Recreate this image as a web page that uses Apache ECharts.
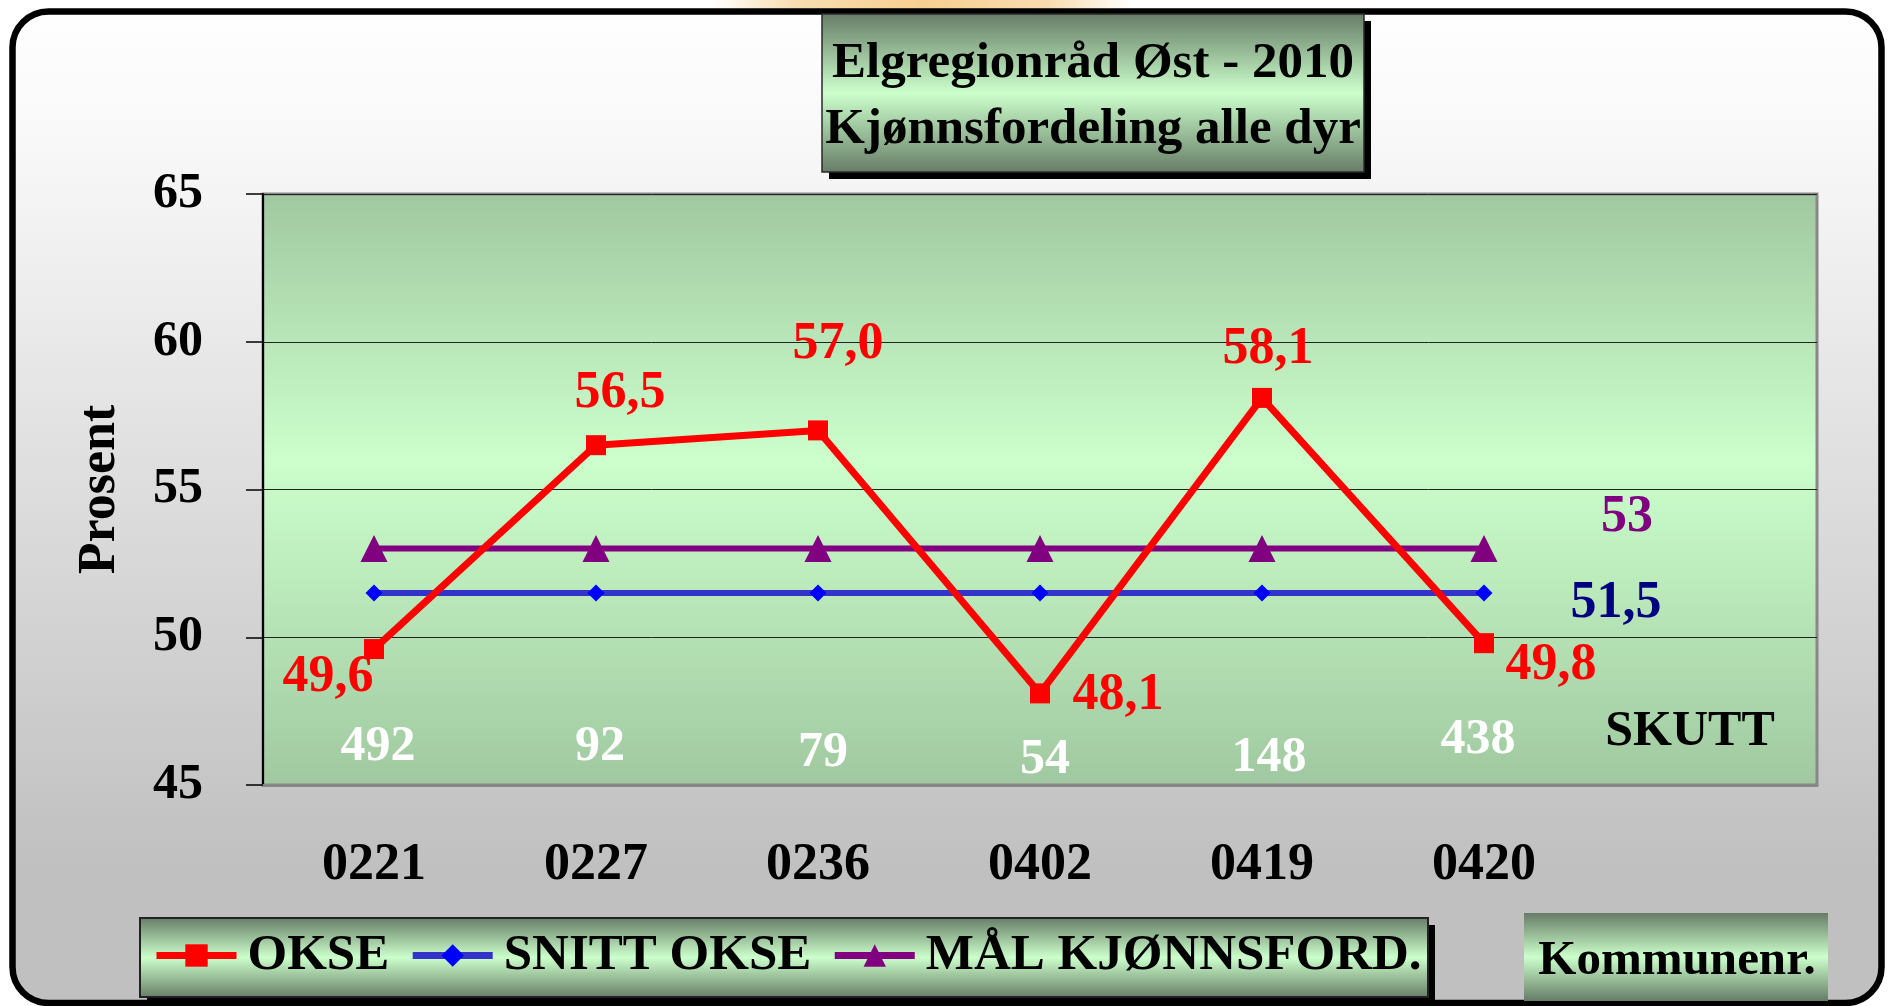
<!DOCTYPE html>
<html><head><meta charset="utf-8">
<script src="https://cdn.jsdelivr.net/npm/echarts@6/dist/echarts.min.js"></script>
<style>html,body{margin:0;padding:0;background:#fff}#c{width:1888px;height:1006px}</style>
</head><body><div id="c"></div>
<script>
// ---------- data ----------
const categories = ['0221', '0227', '0236', '0402', '0419', '0420'];
const okse = [49.6, 56.5, 57.0, 48.1, 58.1, 49.8];
const snittOkse = [51.5, 51.5, 51.5, 51.5, 51.5, 51.5];
const malKjonn = [53, 53, 53, 53, 53, 53];
const skutt = [492, 92, 79, 54, 148, 438];
const yMin = 45, yMax = 65, yStep = 5;
const seriesNames = ['OKSE', 'SNITT OKSE', 'MÅL KJØNNSFORD.'];
const titleLines = ['Elgregionråd Øst - 2010', 'Kjønnsfordeling alle dyr'];
const yName = 'Prosent';
const xName = 'Kommunenr.';
const skuttName = 'SKUTT';

// ---------- layout / style ----------
const FONT = '"Liberation Serif", "Times New Roman", serif';
const oksePos = [[-46, 28], [24, -52], [20, -86], [78, 2], [6, -48], [67, 22]];
const countOff = [[4, -3], [4, -3], [5, 3], [5, 10], [7, 8], [-6, -10]];
const skuttOff = [-16, -18];
const COUNT_Y = 46.18;
const fmt = v => String(v).replace('.', ',');
const fmt1 = v => v.toFixed(1).replace('.', ',');

const boxGrad = {type: 'linear', x: 0, y: 0, x2: 0, y2: 1, colorStops: [
  {offset: 0, color: '#667c66'}, {offset: 0.5, color: '#ccffcc'}, {offset: 1, color: '#667c66'}]};
const frameGrad = {type: 'linear', x: 0, y: 0, x2: 0, y2: 1, colorStops: [
  {offset: 0, color: '#ffffff'}, {offset: 0.15, color: '#f7f7f7'}, {offset: 0.86, color: '#c0c0c0'}, {offset: 1, color: '#c0c0c0'}]};
const plotGrad = {type: 'linear', x: 0, y: 0, x2: 0, y2: 1, colorStops: [
  {offset: 0, color: '#a0c8a0'}, {offset: 0.45, color: '#ccffcc'}, {offset: 1, color: '#a0c8a0'}]};
const blobGrad = {type: 'linear', x: 0, y: 0, x2: 1, y2: 0, colorStops: [
  {offset: 0, color: 'rgba(248,220,170,0)'}, {offset: 0.2, color: '#f9ddb0'}, {offset: 0.5, color: '#f6cf92'},
  {offset: 0.8, color: '#f9ddb0'}, {offset: 1, color: 'rgba(248,220,170,0)'}]};

const xData = categories.concat(['']);
const last = categories.length - 1;
const countLabel = (text, off, color) => ({
  show: true, position: 'inside', offset: off, formatter: text, opacity: 1,
  fontSize: 50, fontWeight: 'bold', fontFamily: FONT, color: color,
  textBorderWidth: 0, textBorderColor: 'transparent'
});

const chart = echarts.init(document.getElementById('c'), null, {renderer: 'canvas'});
chart.setOption({
  animation: false,
  backgroundColor: '#ffffff',
  textStyle: {fontFamily: FONT},
  title: {
    text: titleLines.join('\n'),
    left: 1093, top: 31, textAlign: 'center', padding: 0,
    textStyle: {fontSize: 51, fontWeight: 'bold', fontFamily: FONT, color: '#000', lineHeight: 66}
  },
  graphic: [
    {type: 'rect', z: -20, shape: {x: 712, y: 0, width: 420, height: 10}, style: {fill: blobGrad}},
    {type: 'rect', z: -10, shape: {x: 12.5, y: 11.5, width: 1869, height: 991.5, r: 36},
      style: {fill: frameGrad, stroke: '#000', lineWidth: 6.5}},
    {type: 'rect', z: -6, shape: {x: 829, y: 21, width: 542, height: 158}, style: {fill: '#000'}},
    {type: 'rect', z: -5, shape: {x: 822, y: 14, width: 542, height: 158},
      style: {fill: boxGrad, stroke: '#2a2a2a', lineWidth: 1.5}},
    {type: 'rect', z: -6, shape: {x: 147, y: 925, width: 1288, height: 79}, style: {fill: '#000'}},
    {type: 'rect', z: -5, shape: {x: 140, y: 918, width: 1288, height: 79},
      style: {fill: boxGrad, stroke: '#222', lineWidth: 2}},
    {type: 'rect', z: -5, shape: {x: 1524, y: 913, width: 304, height: 88}, style: {fill: boxGrad}},
    {type: 'text', z: 10, x: 1677, y: 961,
      style: {text: xName, fill: '#000', font: 'bold 49px ' + FONT, align: 'center', verticalAlign: 'middle'}}
  ],
  legend: {
    data: seriesNames, left: 153, top: 930, padding: 0,
    itemWidth: 80, itemHeight: 28, itemGap: 20,
    lineStyle: {width: 7},
    textStyle: {fontSize: 51, fontWeight: 'bold', fontFamily: FONT, color: '#000', padding: [0, 0, 0, 6]}
  },
  grid: {
    left: 263, top: 194, right: 71, bottom: 221, show: true,
    backgroundColor: plotGrad, borderColor: '#888', borderWidth: 3,
    containLabel: false, outerBoundsMode: 'none'
  },
  xAxis: {
    type: 'category', data: xData, boundaryGap: true,
    axisTick: {show: false},
    axisLine: {show: true, lineStyle: {color: '#888', width: 3}},
    axisLabel: {interval: 0, margin: 55, fontSize: 52, fontWeight: 'bold', fontFamily: FONT, color: '#000'},
    splitLine: {show: false}
  },
  yAxis: {
    type: 'value', min: yMin, max: yMax, interval: yStep,
    name: yName, nameLocation: 'middle', nameGap: 136, nameRotate: 90,
    nameTextStyle: {fontSize: 52, fontWeight: 'bold', fontFamily: FONT, color: '#000'},
    axisLine: {show: true, lineStyle: {color: '#000', width: 2}},
    axisTick: {show: true, inside: false, length: 17, lineStyle: {color: '#000', width: 1.5}},
    axisLabel: {margin: 60, fontSize: 50, fontWeight: 'bold', fontFamily: FONT, color: '#000'},
    splitLine: {show: true, lineStyle: {color: '#222', width: 1}}
  },
  series: [
    {
      name: seriesNames[0], type: 'line', z: 5,
      data: okse.map((v, i) => ({value: v, label: {offset: oksePos[i]}})),
      symbol: 'rect', symbolSize: 20,
      lineStyle: {color: '#ff0000', width: 7},
      itemStyle: {color: '#ff0000'},
      label: {show: true, position: 'inside', formatter: p => fmt1(p.value),
        fontSize: 52, fontWeight: 'bold', fontFamily: FONT, color: '#ff0000', textBorderWidth: 0},
      emphasis: {disabled: true}
    },
    {
      name: seriesNames[1], type: 'line', z: 3,
      data: snittOkse.map((v, i) => i === last
        ? {value: v, label: {show: true, position: 'inside', offset: [132, 11], formatter: p => fmt(p.value),
            fontSize: 52, fontWeight: 'bold', fontFamily: FONT, color: '#000080', textBorderWidth: 0}}
        : v),
      symbol: 'diamond', symbolSize: 17,
      lineStyle: {color: '#3333cc', width: 6},
      itemStyle: {color: '#0000ff'},
      emphasis: {disabled: true}
    },
    {
      name: seriesNames[2], type: 'line', z: 4,
      data: malKjonn.map((v, i) => i === last
        ? {value: v, label: {show: true, position: 'inside', offset: [143, -31], formatter: p => fmt(p.value),
            fontSize: 52, fontWeight: 'bold', fontFamily: FONT, color: '#800080', textBorderWidth: 0}}
        : v),
      symbol: 'triangle', symbolSize: 27,
      lineStyle: {color: '#800080', width: 6},
      itemStyle: {color: '#800080'},
      emphasis: {disabled: true}
    },
    {
      name: 'skutt', type: 'scatter', z: 6,
      symbolSize: 1, itemStyle: {color: 'rgba(0,0,0,0)', opacity: 1},
      data: skutt.map((c, i) => ({value: [i, COUNT_Y], label: countLabel(String(c), countOff[i], '#ffffff')}))
        .concat([{value: [categories.length, COUNT_Y], label: countLabel(skuttName, skuttOff, '#000000')}]),
      emphasis: {disabled: true}
    }
  ]
});
</script></body></html>
